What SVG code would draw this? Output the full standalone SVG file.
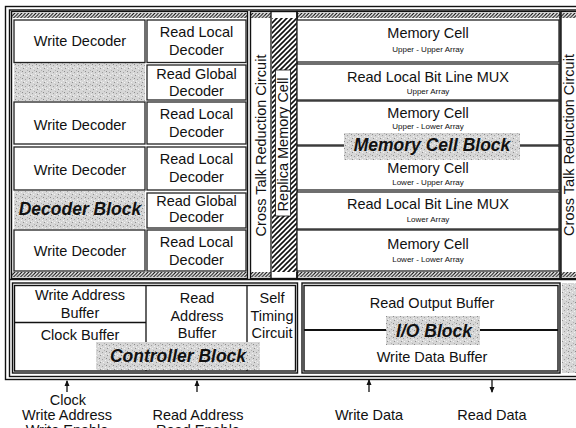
<svg xmlns="http://www.w3.org/2000/svg" width="576" height="428" viewBox="0 0 576 428">
<style>
.t{font-family:"Liberation Sans",Arial,sans-serif;font-size:14.5px;text-anchor:middle;fill:#111}
.s{font-family:"Liberation Sans",Arial,sans-serif;font-size:8px;text-anchor:middle;fill:#111}
.lb{font-family:"Liberation Sans",Arial,sans-serif;font-size:17.5px;font-weight:bold;font-style:italic;text-anchor:middle;fill:#111}
.box{fill:#fff;stroke:#222;stroke-width:1.3}
.fr{fill:none;stroke:#111;stroke-width:1.4}
.hat{fill:url(#hatch)}
.gry{fill:url(#speck)}
.ln{stroke:#111;stroke-width:1.3;fill:none}
</style>
<defs>
<pattern id="hatch" width="3.5" height="3.5" patternUnits="userSpaceOnUse">
<rect width="3.5" height="3.5" fill="#fff"/>
<path d="M-1,4.5 L4.5,-1 M-1,1 L1,-1 M2.5,4.5 L4.5,2.5" stroke="#111" stroke-width="1.1"/>
</pattern>
<pattern id="hatch2" width="5" height="5" patternUnits="userSpaceOnUse">
<rect width="5" height="5" fill="#fff"/>
<path d="M-1,6 L6,-1 M-1,1 L1,-1 M4,6 L6,4" stroke="#111" stroke-width="1.6"/>
</pattern>
<pattern id="speck" width="7" height="7" patternUnits="userSpaceOnUse">
<rect width="7" height="7" fill="#d6d6d6"/>
<rect x="1" y="1" width="1" height="1" fill="#8a8a8a"/>
<rect x="4" y="2" width="1" height="1" fill="#a0a0a0"/>
<rect x="2" y="5" width="1" height="1" fill="#909090"/>
<rect x="5" y="5" width="1" height="1" fill="#f2f2f2"/>
<rect x="0" y="3" width="1" height="1" fill="#f0f0f0"/>
<rect x="6" y="0" width="1" height="1" fill="#b0b0b0"/>
<rect x="3" y="4" width="1" height="1" fill="#eeeeee"/>
</pattern>
<marker id="ah" viewBox="0 0 6 6" refX="5" refY="3" markerWidth="6" markerHeight="6" orient="auto" markerUnits="userSpaceOnUse">
<path d="M0,0.5 L6,3 L0,5.5 Z" fill="#111"/>
</marker>
</defs>

<rect width="576" height="428" fill="#fff"/>

<!-- overall frames -->
<g id="frame">
<rect x="5.5" y="6.5" width="600" height="373" class="fr" stroke-width="1.6"/>
<rect x="9.5" y="10" width="600" height="366.5" class="fr" stroke-width="1"/>
<line x1="9.5" y1="279.5" x2="576" y2="279.5" class="ln"/>
<!-- hatched strips top/bottom -->
<rect x="12" y="13" width="235" height="5" class="hat"/>
<rect x="251" y="13" width="20" height="5" class="hat"/>
<rect x="297" y="13" width="263" height="5" class="hat"/>
<rect x="561" y="13" width="15" height="5" class="hat"/>
<rect x="12" y="272" width="235" height="5" class="hat"/>
<rect x="251" y="272" width="20" height="5" class="hat"/>
<rect x="297" y="272" width="263" height="5" class="hat"/>
<rect x="561" y="272" width="15" height="5" class="hat"/>
<rect x="11.5" y="11.5" width="236" height="267" class="fr" stroke-width="1.2"/>
<rect x="250.5" y="11.5" width="46.5" height="267" class="fr" stroke-width="1.2"/>
<rect x="297" y="11.5" width="263" height="267" class="fr" stroke-width="1.2"/>
<rect x="561" y="11.5" width="40" height="267" class="fr" stroke-width="1.2"/>
</g>

<!-- Decoder block -->
<g id="decoder-block">
<rect x="14" y="63" width="131" height="38" class="gry"/>
<rect x="14" y="191" width="131" height="38" class="gry"/>
<text x="80" y="215" class="lb">Decoder Block</text>
</g>
<g id="write-decoder-1"><rect x="14" y="20" width="131" height="42.5" class="box"/><text x="80" y="46" class="t">Write Decoder</text></g>
<g id="write-decoder-2"><rect x="14" y="102" width="131" height="42" class="box"/><text x="80" y="130" class="t">Write Decoder</text></g>
<g id="write-decoder-3"><rect x="14" y="147" width="131" height="43" class="box"/><text x="80" y="175" class="t">Write Decoder</text></g>
<g id="write-decoder-4"><rect x="14" y="230" width="131" height="41" class="box"/><text x="80" y="256" class="t">Write Decoder</text></g>

<g id="read-local-decoder-1"><rect x="147" y="20" width="99" height="42.5" class="box"/><text x="196.5" y="37" class="t">Read Local</text><text x="196.5" y="55" class="t">Decoder</text></g>
<g id="read-global-decoder-1"><rect x="147" y="65" width="99" height="35" class="box"/><text x="196.5" y="79" class="t">Read Global</text><text x="196.5" y="96" class="t">Decoder</text></g>
<g id="read-local-decoder-2"><rect x="147" y="102" width="99" height="42" class="box"/><text x="196.5" y="119" class="t">Read Local</text><text x="196.5" y="137" class="t">Decoder</text></g>
<g id="read-local-decoder-3"><rect x="147" y="147" width="99" height="43" class="box"/><text x="196.5" y="164" class="t">Read Local</text><text x="196.5" y="182" class="t">Decoder</text></g>
<g id="read-global-decoder-2"><rect x="147" y="193" width="99" height="35" class="box"/><text x="196.5" y="206" class="t">Read Global</text><text x="196.5" y="222" class="t">Decoder</text></g>
<g id="read-local-decoder-4"><rect x="147" y="230" width="99" height="41" class="box"/><text x="196.5" y="247" class="t">Read Local</text><text x="196.5" y="265" class="t">Decoder</text></g>

<!-- Cross talk left -->
<g id="cross-talk-left">
<line x1="271" y1="11.5" x2="271" y2="278.5" class="ln"/>
<text transform="translate(266,145.5) rotate(-90)" class="t">Cross Talk Reduction Circuit</text>
</g>

<!-- Replica -->
<g id="replica-memory-cell">
<rect x="272" y="18" width="24.5" height="254" fill="url(#hatch2)"/>
<rect x="275.5" y="70" width="15" height="146" fill="#fff" stroke="#111" stroke-width="0.8"/>
<text transform="translate(288,144.5) rotate(-90)" class="t">Replica Memory Cell</text>
</g>

<!-- Memory cells -->
<g id="memory-cell-uu"><rect x="297" y="20" width="262" height="42" class="box"/><text x="428" y="38" class="t">Memory Cell</text><text x="428" y="52" class="s">Upper - Upper Array</text></g>
<g id="mux-upper"><rect x="297" y="64" width="262" height="36" class="box"/><text x="428" y="82" class="t">Read Local Bit Line MUX</text><text x="428" y="94" class="s">Upper Array</text></g>
<g id="memory-cell-ul"><rect x="297" y="101" width="262" height="44" class="box"/><text x="428" y="118" class="t">Memory Cell</text><text x="428" y="129" class="s">Upper - Lower Array</text></g>
<g id="memory-cell-lu"><rect x="297" y="146" width="262" height="44" class="box"/><text x="428" y="173" class="t">Memory Cell</text><text x="428" y="185" class="s">Lower - Upper Array</text></g>
<g id="mux-lower"><rect x="297" y="192" width="262" height="37" class="box"/><text x="428" y="209" class="t">Read Local Bit Line MUX</text><text x="428" y="222" class="s">Lower Array</text></g>
<g id="memory-cell-ll"><rect x="297" y="230" width="262" height="41" class="box"/><text x="428" y="249" class="t">Memory Cell</text><text x="428" y="262" class="s">Lower - Lower Array</text></g>
<g id="memory-cell-block">
<rect x="344" y="133" width="176" height="27" class="gry"/>
<text x="432" y="151" class="lb" font-size="18">Memory Cell Block</text>
</g>

<!-- Cross talk right -->
<g id="cross-talk-right">
<text transform="translate(574,145) rotate(-90)" class="t">Cross Talk Reduction Circuit</text>
<rect x="562" y="283" width="14" height="90" class="gry"/>
</g>

<!-- Controller block -->
<g id="controller-block">
<rect x="12.5" y="283" width="285" height="90" class="fr" stroke-width="1.6"/>
<rect x="14.5" y="285.5" width="281" height="85.5" class="fr" stroke-width="0.8"/>
<line x1="146" y1="285.5" x2="146" y2="371" class="ln"/>
<line x1="247" y1="285.5" x2="247" y2="371" class="ln"/>
<line x1="14.5" y1="322.5" x2="146" y2="322.5" class="ln" stroke-width="1.8"/>
<rect x="96" y="342" width="164" height="28" class="gry"/>
<text x="178" y="362" class="lb">Controller Block</text>
</g>
<g id="write-address-buffer"><text x="80" y="300" class="t">Write Address</text><text x="80" y="318" class="t">Buffer</text></g>
<g id="clock-buffer"><text x="80" y="340" class="t">Clock Buffer</text></g>
<g id="read-address-buffer"><text x="197" y="303" class="t">Read</text><text x="197" y="321" class="t">Address</text><text x="197" y="338" class="t">Buffer</text></g>
<g id="self-timing-circuit"><text x="272" y="303" class="t">Self</text><text x="272" y="321" class="t">Timing</text><text x="272" y="338" class="t">Circuit</text></g>

<!-- I/O block -->
<g id="io-block">
<rect x="302" y="283" width="258" height="90" class="fr" stroke-width="1.6"/>
<rect x="304" y="285.5" width="254" height="85.5" class="fr" stroke-width="0.8"/>
<line x1="304" y1="330" x2="558" y2="330" stroke="#111" stroke-width="2"/>
<rect x="386" y="316" width="94" height="29" class="gry"/>
<text x="434" y="337" class="lb" font-size="18">I/O Block</text>
</g>
<g id="read-output-buffer"><text x="432" y="308" class="t">Read Output Buffer</text></g>
<g id="write-data-buffer"><text x="432" y="362" class="t">Write Data Buffer</text></g>

<!-- Connectors -->
<g id="connectors" stroke="#111" stroke-width="1.3">
<line x1="67" y1="392" x2="67" y2="381" marker-end="url(#ah)"/>
<line x1="197" y1="392" x2="197" y2="381" marker-end="url(#ah)"/>
<line x1="369" y1="392" x2="369" y2="380" marker-end="url(#ah)"/>
<line x1="492" y1="380" x2="492" y2="392" marker-end="url(#ah)"/>
</g>

<!-- External labels -->
<g id="ext-controller-left"><text x="68" y="405" class="t">Clock</text><text x="67" y="420" class="t">Write Address</text><text x="67" y="435" class="t">Write Enable</text></g>
<g id="ext-controller-right"><text x="198" y="420" class="t">Read Address</text><text x="198" y="435" class="t">Read Enable</text></g>
<g id="ext-write-data"><text x="369" y="420" class="t">Write Data</text></g>
<g id="ext-read-data"><text x="492" y="420" class="t">Read Data</text></g>
</svg>
